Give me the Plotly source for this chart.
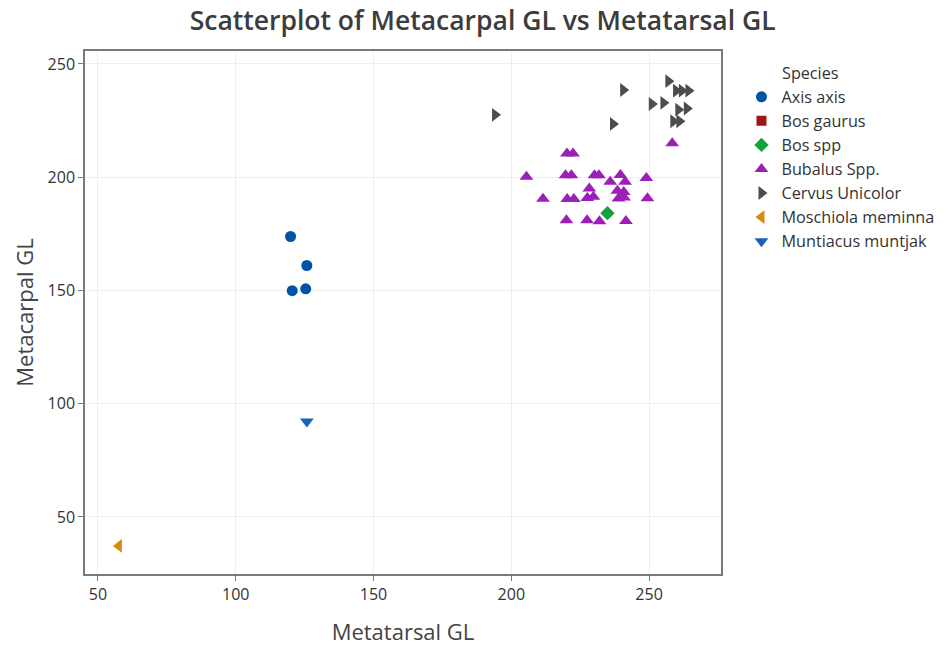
import plotly.graph_objects as go

# Metatarsal GL (x) and Metacarpal GL (y) measurements by species
axis_x = [119.9, 125.8, 120.5, 125.4]
axis_y = [173.8, 161.0, 149.9, 150.7]

bos_gaurus_x = [None]
bos_gaurus_y = [None]

bos_spp_x = [234.9]
bos_spp_y = [184.1]

bubalus_x = [205.5, 211.5, 220.2, 222.4, 219.7, 221.8, 220.3, 222.7, 220.0, 227.5,
             230.2, 231.8, 228.3, 227.6, 229.8, 232.0, 235.9, 239.6, 241.3, 238.5,
             240.8, 238.9, 240.9, 241.6, 249.0, 249.4, 258.4]
bubalus_y = [200.2, 190.5, 210.5, 210.5, 200.8, 200.8, 190.4, 190.4, 181.0, 181.0,
             200.8, 200.8, 195.0, 190.8, 191.3, 180.5, 198.0, 201.0, 198.0, 194.0,
             193.5, 190.6, 191.0, 180.7, 199.6, 190.7, 215.0]

cervus_x = [194.1, 240.6, 236.9, 257.0, 259.8, 261.9, 264.3, 251.0, 255.2, 260.6,
            263.7, 258.8, 261.0]
cervus_y = [227.5, 238.5, 223.5, 242.4, 238.2, 238.2, 238.2, 232.3, 232.8, 229.8,
            230.3, 224.7, 224.7]

moschiola_x = [57.6]
moschiola_y = [37.2]

muntiacus_x = [125.8]
muntiacus_y = [92.1]

series = [
    ("Axis axis", axis_x, axis_y, "circle", "#0054a6", 11),
    ("Bos gaurus", bos_gaurus_x, bos_gaurus_y, "square", "#a0161b", 10),
    ("Bos spp", bos_spp_x, bos_spp_y, "diamond", "#13a23a", 11),
    ("Bubalus Spp.", bubalus_x, bubalus_y, "triangle-up", "#9c1fb8", 12),
    ("Cervus Unicolor", cervus_x, cervus_y, "triangle-right", "#4d4d4d", 12),
    ("Moschiola meminna", moschiola_x, moschiola_y, "triangle-left", "#d88a0c", 12),
    ("Muntiacus muntjak", muntiacus_x, muntiacus_y, "triangle-down", "#1a62b8", 12),
]

FONT = "Open Sans, Noto Sans, sans-serif"

fig = go.Figure()
for name, xs, ys, sym, col, size in series:
    fig.add_trace(go.Scatter(
        x=xs, y=ys, mode="markers", name=name, showlegend=True,
        marker=dict(symbol=sym, color=col, size=size, line=dict(width=0)),
    ))

axis_common = dict(
    showgrid=True, gridcolor="#eeeeee", gridwidth=1,
    showline=True, linecolor="#7a7a7a", linewidth=1.5, mirror=True,
    ticks="outside", ticklen=5, tickcolor="#7a7a7a",
    tickfont=dict(family=FONT, size=16, color="#333333"),
    zeroline=False,
)

fig.update_layout(
    width=952, height=646,
    margin=dict(l=85, r=231, t=51, b=72, autoexpand=False),
    paper_bgcolor="white", plot_bgcolor="white",
    title=dict(
        text="Scatterplot of Metacarpal GL vs Metatarsal GL",
        x=0.507, xanchor="center", y=0.968, yanchor="middle",
        font=dict(family=FONT, size=26.5, color="#3c3c3c", weight=600),
    ),
    xaxis=dict(
        range=[45.3, 276.1], tickvals=[50, 100, 150, 200, 250],
        title=dict(text="Metatarsal GL", standoff=21,
                   font=dict(family=FONT, size=22, color="#444444")),
        automargin=False,
        **axis_common,
    ),
    yaxis=dict(
        range=[24.8, 255.7], tickvals=[50, 100, 150, 200, 250],
        title=dict(text="Metacarpal GL", standoff=8,
                   font=dict(family=FONT, size=22, color="#444444")),
        automargin=False,
        **axis_common,
    ),
    legend=dict(
        font=dict(family=FONT, size=16.2, color="#333333"),
        x=1.0322, xanchor="left", y=0.945, yanchor="top",
        bgcolor="rgba(0,0,0,0)", tracegroupgap=0,
    ),
    annotations=[dict(
        text="Species", xref="paper", yref="paper",
        x=1.0935, xanchor="left", y=0.958, yanchor="middle",
        showarrow=False, font=dict(family=FONT, size=16.2, color="#333333"),
    )],
)

fig.write_html("out.html")
